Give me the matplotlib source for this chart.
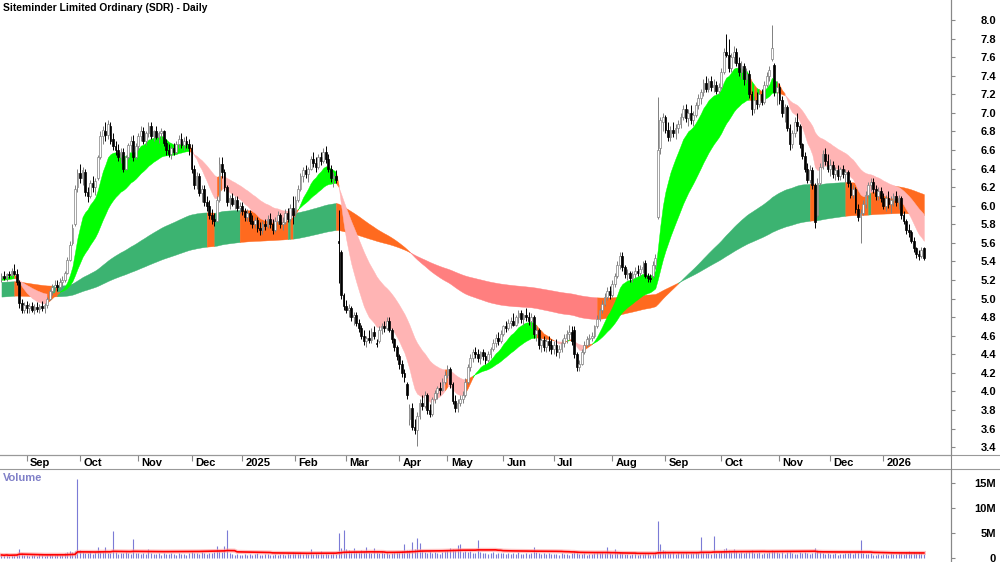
import numpy as np
import pandas as pd
import matplotlib
matplotlib.use('Agg')
import matplotlib.pyplot as plt
from matplotlib.lines import Line2D
from matplotlib.transforms import blended_transform_factory

title = 'Siteminder Limited Ordinary (SDR) - Daily'

# ASX trading days shown (19 Aug 2024 .. 27 Jan 2026)
holidays = ['2024-12-25', '2024-12-26', '2025-01-01', '2025-01-27', '2025-04-18',
            '2025-04-21', '2025-04-25', '2025-06-09', '2025-12-25', '2025-12-26',
            '2026-01-01', '2026-01-26']

# daily prices, one line per month (Aug 2024 ... Jan 2026)
opens = [
    5.22, 5.24, 5.22, 5.26, 5.25, 5.30, 5.27, 5.18, 4.95, 4.88,
    4.93, 4.90, 4.92, 4.88, 4.91, 4.89, 4.92, 4.90, 4.93, 5.00, 5.08, 5.12, 5.15, 5.12, 5.18, 5.20, 5.28, 5.42, 5.60, 5.80, 6.20,
    6.35, 6.30, 6.36, 6.15, 6.10, 6.25, 6.20, 6.30, 6.52, 6.75, 6.80, 6.76, 6.86, 6.72, 6.64, 6.60, 6.52, 6.58, 6.40, 6.52, 6.65, 6.70, 6.52,
    6.64, 6.75, 6.80, 6.70, 6.78, 6.86, 6.75, 6.80, 6.74, 6.78, 6.80, 6.68, 6.60, 6.56, 6.62, 6.58, 6.66, 6.72, 6.65, 6.70, 6.66,
    6.62, 6.40, 6.22, 6.32, 6.14, 6.18, 6.04, 6.00, 5.90, 5.86, 5.84, 6.06, 6.45, 6.36, 6.20, 6.04, 6.08, 6.02, 6.06, 5.98,
    6.00, 5.94, 5.88, 5.92, 5.84, 5.80, 5.85, 5.76, 5.74, 5.80, 5.78, 5.86, 5.80, 5.74, 5.84, 5.90, 5.80, 5.82, 5.92, 5.86, 5.98,
    5.92, 6.06, 6.18, 6.32, 6.38, 6.34, 6.40, 6.50, 6.46, 6.42, 6.52, 6.48, 6.58, 6.50, 6.40, 6.30, 6.32, 5.62, 5.50, 5.04,
    4.92, 4.88, 4.90, 4.80, 4.82, 4.74, 4.68, 4.60, 4.54, 4.58, 4.55, 4.64, 4.52, 4.54, 4.66, 4.70, 4.68, 4.76, 4.66, 4.56, 4.48,
    4.38, 4.30, 4.20, 4.08, 3.70, 3.82, 3.62, 3.58, 3.74, 3.88, 3.84, 3.96, 3.80, 3.76, 3.92, 3.98, 4.04, 4.02, 4.10,
    4.18, 4.24, 4.08, 3.90, 3.82, 3.88, 3.92, 3.96, 4.10, 4.26, 4.36, 4.42, 4.40, 4.36, 4.42, 4.38, 4.34, 4.40, 4.46, 4.52, 4.58, 4.54,
    4.62, 4.70, 4.68, 4.74, 4.76, 4.72, 4.80, 4.84, 4.78, 4.82, 4.80, 4.76, 4.80, 4.62, 4.66, 4.50, 4.55, 4.48, 4.54, 4.50,
    4.46, 4.50, 4.42, 4.46, 4.52, 4.58, 4.62, 4.64, 4.66, 4.40, 4.26, 4.30, 4.42, 4.50, 4.56, 4.58, 4.60, 4.70, 4.78, 4.88, 4.94, 5.02, 5.08,
    5.04, 5.16, 5.24, 5.36, 5.46, 5.34, 5.26, 5.28, 5.22, 5.26, 5.30, 5.28, 5.32, 5.38, 5.24, 5.22, 5.24, 5.36, 5.88, 6.62, 6.90,
    6.96, 6.82, 6.74, 6.82, 6.78, 6.84, 6.88, 6.96, 7.04, 6.94, 7.00, 6.92, 6.98, 7.08, 7.16, 7.22, 7.32, 7.26, 7.34, 7.28, 7.30, 7.24,
    7.28, 7.44, 7.66, 7.62, 7.48, 7.60, 7.66, 7.54, 7.44, 7.50, 7.36, 7.42, 7.20, 7.04, 7.14, 7.10, 7.20, 7.12, 7.30, 7.40, 7.58, 7.52, 7.22,
    7.28, 7.14, 7.00, 7.06, 6.84, 6.66, 6.78, 6.90, 6.86, 6.66, 6.54, 6.40, 6.28, 6.38, 6.22, 5.90, 6.24, 6.42, 6.56, 6.48,
    6.40, 6.44, 6.34, 6.38, 6.32, 6.40, 6.34, 6.36, 6.24, 6.12, 6.18, 5.96, 5.88, 5.92, 6.02, 6.12, 6.22, 6.26, 6.18, 6.10, 6.16,
    6.08, 6.00, 6.08, 6.02, 6.06, 6.10, 6.04, 6.08, 5.90, 5.84, 5.74, 5.72, 5.62, 5.54, 5.48, 5.46, 5.54,
]
highs = [
    5.28, 5.30, 5.28, 5.30, 5.33, 5.37, 5.32, 5.20, 5.00, 4.96,
    4.97, 4.95, 4.96, 4.94, 4.96, 4.94, 4.97, 4.95, 5.02, 5.10, 5.16, 5.20, 5.20, 5.22, 5.24, 5.30, 5.45, 5.62, 5.80, 6.22, 6.40,
    6.45, 6.42, 6.40, 6.20, 6.28, 6.32, 6.30, 6.55, 6.80, 6.86, 6.90, 6.92, 6.90, 6.78, 6.70, 6.66, 6.62, 6.62, 6.55, 6.68, 6.75, 6.76, 6.68,
    6.78, 6.86, 6.85, 6.80, 6.90, 6.90, 6.82, 6.86, 6.80, 6.84, 6.82, 6.72, 6.66, 6.64, 6.68, 6.70, 6.76, 6.78, 6.74, 6.75, 6.72,
    6.66, 6.44, 6.36, 6.35, 6.22, 6.22, 6.10, 6.06, 5.96, 5.92, 6.10, 6.52, 6.52, 6.40, 6.22, 6.12, 6.14, 6.10, 6.10, 6.04,
    6.04, 5.98, 5.96, 5.95, 5.90, 5.88, 5.88, 5.82, 5.84, 5.86, 5.90, 5.92, 5.86, 5.88, 5.94, 5.92, 5.88, 5.96, 5.98, 6.02, 6.10,
    6.10, 6.22, 6.35, 6.42, 6.44, 6.42, 6.54, 6.58, 6.52, 6.56, 6.58, 6.62, 6.64, 6.56, 6.44, 6.36, 6.38, 5.95, 5.52, 5.06,
    4.98, 4.94, 4.92, 4.86, 4.86, 4.78, 4.72, 4.66, 4.60, 4.66, 4.68, 4.70, 4.56, 4.70, 4.74, 4.76, 4.80, 4.80, 4.68, 4.58, 4.50,
    4.40, 4.34, 4.24, 4.10, 3.86, 3.88, 3.70, 3.78, 3.92, 3.96, 4.00, 3.98, 3.86, 3.94, 4.02, 4.06, 4.10, 4.14, 4.22,
    4.28, 4.26, 4.10, 3.96, 3.92, 3.96, 4.00, 4.14, 4.30, 4.40, 4.46, 4.48, 4.46, 4.44, 4.46, 4.42, 4.44, 4.48, 4.56, 4.62, 4.64, 4.66,
    4.72, 4.76, 4.78, 4.80, 4.84, 4.82, 4.88, 4.88, 4.84, 4.90, 4.86, 4.84, 4.82, 4.70, 4.68, 4.58, 4.60, 4.58, 4.60, 4.56,
    4.54, 4.56, 4.50, 4.56, 4.62, 4.66, 4.72, 4.70, 4.70, 4.42, 4.34, 4.46, 4.54, 4.60, 4.62, 4.64, 4.72, 4.82, 4.90, 4.98, 5.06, 5.12, 5.14,
    5.20, 5.28, 5.40, 5.50, 5.50, 5.36, 5.32, 5.30, 5.30, 5.34, 5.36, 5.36, 5.40, 5.42, 5.28, 5.26, 5.40, 5.48, 7.17, 6.96, 7.00,
    6.98, 6.90, 6.86, 6.90, 6.88, 6.92, 7.00, 7.08, 7.10, 7.04, 7.08, 7.02, 7.12, 7.20, 7.26, 7.36, 7.40, 7.38, 7.40, 7.36, 7.34, 7.32,
    7.48, 7.70, 7.85, 7.80, 7.64, 7.72, 7.70, 7.60, 7.56, 7.54, 7.48, 7.46, 7.24, 7.18, 7.22, 7.24, 7.26, 7.34, 7.44, 7.50, 7.95, 7.54, 7.34,
    7.32, 7.18, 7.10, 7.08, 6.88, 6.82, 6.96, 7.00, 6.88, 6.68, 6.58, 6.46, 6.44, 6.42, 6.24, 6.30, 6.46, 6.60, 6.62, 6.56,
    6.50, 6.48, 6.42, 6.44, 6.42, 6.44, 6.40, 6.38, 6.28, 6.22, 6.20, 6.02, 5.96, 6.06, 6.16, 6.26, 6.30, 6.30, 6.22, 6.20, 6.20,
    6.14, 6.12, 6.16, 6.10, 6.14, 6.16, 6.12, 6.10, 5.94, 5.86, 5.80, 5.74, 5.66, 5.56, 5.52, 5.56, 5.56,
]
lows = [
    5.18, 5.20, 5.19, 5.22, 5.23, 5.25, 5.15, 4.90, 4.84, 4.85,
    4.85, 4.84, 4.86, 4.83, 4.86, 4.84, 4.87, 4.85, 4.90, 4.98, 5.04, 5.08, 5.08, 5.10, 5.14, 5.18, 5.26, 5.40, 5.58, 5.78, 6.15,
    6.25, 6.22, 6.10, 6.04, 6.08, 6.15, 6.12, 6.28, 6.50, 6.66, 6.70, 6.72, 6.66, 6.60, 6.55, 6.48, 6.46, 6.36, 6.38, 6.50, 6.58, 6.48, 6.50,
    6.60, 6.70, 6.66, 6.65, 6.74, 6.72, 6.70, 6.72, 6.68, 6.72, 6.64, 6.55, 6.52, 6.50, 6.55, 6.56, 6.62, 6.62, 6.60, 6.62, 6.55,
    6.35, 6.18, 6.18, 6.10, 6.04, 6.00, 5.94, 5.86, 5.80, 5.78, 5.82, 6.04, 6.30, 6.16, 6.00, 5.96, 6.00, 5.96, 5.94, 5.92,
    5.90, 5.84, 5.84, 5.80, 5.76, 5.76, 5.72, 5.68, 5.70, 5.74, 5.76, 5.76, 5.70, 5.72, 5.80, 5.76, 5.74, 5.80, 5.82, 5.84, 5.80,
    5.88, 6.04, 6.16, 6.26, 6.30, 6.26, 6.38, 6.42, 6.36, 6.40, 6.44, 6.46, 6.46, 6.36, 6.26, 6.20, 6.24, 5.17, 5.00, 4.88,
    4.84, 4.80, 4.76, 4.72, 4.70, 4.64, 4.56, 4.50, 4.48, 4.52, 4.52, 4.56, 4.48, 4.52, 4.62, 4.64, 4.66, 4.64, 4.52, 4.44, 4.34,
    4.24, 4.16, 4.10, 3.92, 3.64, 3.58, 3.54, 3.41, 3.70, 3.80, 3.82, 3.76, 3.72, 3.74, 3.88, 3.92, 3.96, 4.00, 4.08,
    4.14, 4.04, 3.86, 3.78, 3.78, 3.84, 3.88, 3.94, 4.08, 4.22, 4.32, 4.36, 4.32, 4.30, 4.34, 4.30, 4.32, 4.36, 4.44, 4.48, 4.50, 4.52,
    4.60, 4.64, 4.66, 4.68, 4.70, 4.70, 4.74, 4.74, 4.72, 4.76, 4.72, 4.68, 4.58, 4.54, 4.46, 4.42, 4.44, 4.42, 4.44, 4.40,
    4.40, 4.38, 4.36, 4.42, 4.48, 4.52, 4.56, 4.50, 4.36, 4.22, 4.22, 4.28, 4.40, 4.48, 4.50, 4.54, 4.58, 4.68, 4.76, 4.84, 4.92, 4.98, 5.00,
    5.02, 5.12, 5.22, 5.32, 5.30, 5.22, 5.20, 5.18, 5.18, 5.22, 5.24, 5.24, 5.28, 5.22, 5.18, 5.18, 5.22, 5.32, 5.86, 6.56, 6.80,
    6.78, 6.70, 6.70, 6.74, 6.72, 6.78, 6.84, 6.92, 6.90, 6.86, 6.88, 6.86, 6.96, 7.04, 7.10, 7.18, 7.22, 7.22, 7.24, 7.22, 7.20, 7.20,
    7.26, 7.42, 7.60, 7.44, 7.44, 7.54, 7.50, 7.40, 7.36, 7.30, 7.32, 7.16, 6.98, 7.00, 7.04, 7.06, 7.08, 7.10, 7.28, 7.34, 7.56, 7.18, 7.08,
    7.10, 6.96, 6.90, 6.80, 6.60, 6.62, 6.74, 6.80, 6.62, 6.50, 6.36, 6.24, 6.24, 6.18, 5.76, 5.88, 6.22, 6.40, 6.44, 6.36,
    6.32, 6.30, 6.28, 6.28, 6.28, 6.30, 6.26, 6.20, 6.08, 6.08, 5.92, 5.84, 5.60, 5.90, 5.98, 6.08, 6.16, 6.14, 6.06, 6.06, 6.04,
    5.96, 5.94, 5.98, 5.92, 6.00, 6.00, 5.96, 5.86, 5.80, 5.70, 5.66, 5.60, 5.50, 5.44, 5.42, 5.44, 5.42,
]
closes = [
    5.24, 5.22, 5.26, 5.25, 5.30, 5.27, 5.18, 4.95, 4.88, 4.93,
    4.90, 4.92, 4.88, 4.91, 4.89, 4.92, 4.90, 4.93, 5.00, 5.08, 5.12, 5.15, 5.12, 5.18, 5.20, 5.28, 5.42, 5.58, 5.76, 6.18, 6.35,
    6.30, 6.38, 6.15, 6.10, 6.25, 6.20, 6.27, 6.52, 6.75, 6.82, 6.76, 6.88, 6.70, 6.64, 6.60, 6.52, 6.58, 6.40, 6.52, 6.65, 6.70, 6.52, 6.64,
    6.75, 6.80, 6.70, 6.78, 6.86, 6.75, 6.80, 6.74, 6.78, 6.80, 6.68, 6.60, 6.56, 6.62, 6.58, 6.66, 6.72, 6.65, 6.70, 6.66, 6.62,
    6.40, 6.22, 6.32, 6.14, 6.18, 6.04, 6.00, 5.90, 5.86, 5.84, 6.06, 6.45, 6.36, 6.20, 6.04, 6.08, 6.02, 6.06, 5.98, 6.00,
    5.94, 5.88, 5.92, 5.84, 5.80, 5.85, 5.76, 5.74, 5.80, 5.78, 5.86, 5.80, 5.74, 5.84, 5.90, 5.80, 5.82, 5.92, 5.86, 5.98, 5.90,
    6.06, 6.18, 6.32, 6.38, 6.34, 6.40, 6.50, 6.46, 6.42, 6.52, 6.48, 6.58, 6.50, 6.40, 6.30, 6.32, 6.28, 5.60, 5.04, 4.92,
    4.88, 4.90, 4.80, 4.82, 4.74, 4.68, 4.60, 4.54, 4.58, 4.55, 4.64, 4.60, 4.51, 4.66, 4.70, 4.68, 4.76, 4.66, 4.56, 4.48, 4.38,
    4.30, 4.20, 4.16, 3.96, 3.82, 3.62, 3.58, 3.74, 3.88, 3.84, 3.96, 3.80, 3.76, 3.92, 3.98, 4.04, 4.02, 4.10, 4.18,
    4.24, 4.08, 3.90, 3.82, 3.88, 3.92, 3.96, 4.10, 4.26, 4.36, 4.42, 4.40, 4.36, 4.42, 4.38, 4.34, 4.40, 4.46, 4.52, 4.58, 4.54, 4.62,
    4.70, 4.68, 4.74, 4.76, 4.72, 4.80, 4.84, 4.78, 4.82, 4.80, 4.76, 4.80, 4.62, 4.66, 4.50, 4.55, 4.48, 4.54, 4.50, 4.46,
    4.50, 4.42, 4.46, 4.52, 4.58, 4.62, 4.64, 4.54, 4.40, 4.26, 4.30, 4.42, 4.50, 4.56, 4.58, 4.60, 4.70, 4.78, 4.88, 4.94, 5.02, 5.08, 5.04,
    5.16, 5.24, 5.36, 5.46, 5.34, 5.26, 5.28, 5.22, 5.26, 5.30, 5.28, 5.32, 5.34, 5.24, 5.22, 5.21, 5.36, 5.44, 6.60, 6.92, 6.96,
    6.82, 6.74, 6.82, 6.78, 6.84, 6.88, 6.96, 7.04, 6.94, 7.00, 6.92, 6.98, 7.08, 7.16, 7.22, 7.32, 7.26, 7.34, 7.28, 7.30, 7.24, 7.28,
    7.44, 7.66, 7.62, 7.48, 7.60, 7.66, 7.54, 7.44, 7.50, 7.36, 7.42, 7.20, 7.04, 7.14, 7.10, 7.20, 7.12, 7.30, 7.40, 7.46, 7.70, 7.22, 7.28,
    7.14, 7.00, 7.06, 6.84, 6.66, 6.78, 6.90, 6.86, 6.66, 6.54, 6.40, 6.28, 6.38, 6.22, 5.82, 6.24, 6.42, 6.56, 6.48, 6.40,
    6.44, 6.34, 6.38, 6.32, 6.40, 6.34, 6.36, 6.24, 6.12, 6.18, 5.96, 5.88, 5.92, 6.02, 6.12, 6.22, 6.26, 6.18, 6.10, 6.16, 6.08,
    6.00, 6.08, 6.02, 6.06, 6.10, 6.04, 6.08, 5.90, 5.84, 5.74, 5.72, 5.62, 5.54, 5.48, 5.46, 5.52, 5.44,
]
# volume in millions of shares
volumes = [
    0.6, 0.5, 0.7, 0.4, 0.6, 0.5, 0.8, 1.8, 0.9, 0.6,
    0.5, 0.4, 0.6, 0.5, 0.4, 0.7, 0.5, 0.4, 0.6, 0.8, 0.5, 0.6, 0.7, 0.5, 0.6, 0.9, 1.2, 1.4, 1.1, 1.3, 15.8,
    1.6, 1.2, 1.0, 0.9, 1.3, 0.8, 1.1, 2.1, 1.4, 1.2, 2.2, 0.9, 1.0, 5.3, 1.1, 0.8, 0.9, 1.0, 1.2, 0.9, 0.8, 3.8, 1.0,
    0.9, 0.8, 1.0, 0.7, 1.7, 0.9, 0.8, 0.7, 1.0, 0.6, 0.9, 0.8, 0.7, 1.0, 0.8, 0.6, 0.9, 0.7, 0.8, 0.6, 0.9,
    1.2, 1.0, 0.9, 0.8, 1.1, 0.9, 0.8, 1.0, 0.9, 1.2, 2.3, 1.4, 1.1, 2.3, 5.6, 1.0, 0.7, 0.6, 0.8, 0.5,
    0.6, 0.7, 0.5, 0.8, 0.6, 0.7, 0.9, 0.6, 0.5, 0.7, 0.8, 0.6, 0.5, 0.7, 0.6, 0.8, 0.7, 0.6, 0.9, 0.8, 1.1,
    1.0, 0.9, 1.1, 0.8, 0.9, 0.7, 1.8, 0.8, 0.9, 0.7, 1.4, 0.8, 0.9, 0.7, 0.8, 0.9, 0.8, 5.0, 2.0, 5.6,
    1.8, 1.5, 1.2, 1.9, 1.3, 1.1, 1.6, 1.4, 2.2, 1.2, 1.0, 1.9, 1.1, 1.0, 1.3, 0.9, 1.1, 0.8, 1.0, 1.2, 1.1,
    1.2, 1.4, 2.8, 1.5, 1.6, 3.1, 1.8, 4.0, 3.0, 1.6, 1.2, 1.0, 1.3, 0.9, 1.1, 1.0, 0.8, 1.2, 1.4,
    1.6, 2.0, 1.8, 1.5, 2.6, 2.8, 1.2, 1.4, 1.1, 1.3, 1.0, 0.9, 3.5, 1.1, 0.9, 1.0, 0.8, 0.9, 1.2, 0.8, 1.0, 0.9,
    0.9, 0.8, 1.0, 0.7, 0.9, 0.8, 1.1, 0.7, 0.8, 0.9, 0.7, 1.0, 2.2, 1.1, 0.9, 0.8, 1.0, 0.7, 0.9, 0.8,
    0.7, 0.8, 0.6, 0.9, 0.7, 0.8, 0.6, 0.9, 1.4, 1.1, 0.8, 0.7, 0.9, 0.6, 0.8, 0.7, 1.0, 1.2, 0.9, 1.1, 1.0, 2.1, 0.9,
    0.8, 1.7, 1.0, 1.2, 0.9, 0.7, 0.8, 0.6, 0.7, 0.9, 0.6, 0.8, 0.7, 1.0, 0.9, 0.6, 0.8, 1.1, 7.4, 2.7, 1.6,
    1.3, 1.0, 0.9, 1.1, 0.8, 1.2, 1.0, 0.9, 1.1, 0.8, 1.0, 0.9, 1.2, 1.0, 4.2, 1.1, 0.9, 1.0, 0.8, 4.4, 1.0, 1.2,
    1.4, 1.8, 1.9, 1.5, 1.2, 1.7, 1.3, 1.0, 1.1, 0.9, 1.2, 1.4, 1.6, 1.0, 0.9, 1.1, 0.8, 1.0, 0.9, 1.2, 1.5, 1.3, 1.1,
    1.0, 1.1, 0.8, 1.2, 1.3, 0.9, 0.8, 0.7, 1.1, 1.0, 1.2, 0.9, 0.8, 1.0, 2.0, 1.5, 1.2, 1.0, 0.8, 0.9,
    0.8, 0.7, 0.9, 0.6, 0.8, 0.7, 0.9, 1.0, 1.1, 0.8, 1.2, 1.3, 3.6, 1.0, 0.8, 0.7, 0.9, 0.6, 0.5, 0.7, 0.6,
    0.7, 0.8, 0.6, 0.9, 0.7, 0.8, 0.9, 1.0, 0.8, 1.1, 1.3, 0.9, 1.2, 1.0, 1.1, 0.9, 0.8,
]

price_ticks = np.arange(3.4, 8.01, 0.2)
vol_ticks = [0, 5, 10, 15]
vol_labels = ['0', '5M', '10M', '15M']

days = pd.bdate_range('2024-08-19', '2026-01-27')
days = days[~days.isin(pd.to_datetime(holidays))]
n = len(closes)
assert len(days) == n == len(opens) == len(highs) == len(lows) == len(volumes), (len(days), n)

o = np.array(opens); h = np.array(highs); l = np.array(lows); c = np.array(closes)
x = np.arange(n)


def ema(vals, period, seed):
    a = 2.0 / (period + 1)
    out, e = [], seed
    for v in vals:
        e = e + a * (v - e)
        out.append(e)
    return np.array(out)


def band_colors(fast, slow, ref, up, down, mixed):
    # trend from the order of the two averages, confirmed by the close vs ref line
    cols = []
    for f, s, r, cl in zip(fast, slow, ref, c):
        if f >= s:
            cols.append(up if cl >= r else mixed)
        else:
            cols.append(down if cl <= r else mixed)
    return cols


def fill_band(ax, fast, slow, cols):
    start = 0
    for i in range(1, n + 1):
        if i == n or cols[i] != cols[start]:
            s0 = max(start - 1, 0)
            ax.fill_between(x[s0:i], fast[s0:i], slow[s0:i], color=cols[start],
                            lw=0.3, edgecolor=cols[start], zorder=1)
            start = i


short_fast = ema(c, 10, 5.24)
short_slow = ema(c, 30, 5.20)
long_fast = ema(c, 130, 5.18)
long_slow = ema(c, 250, 5.02)

ORANGE = '#ff6a1f'
fig = plt.figure(figsize=(10, 5.62), dpi=100)
ax = fig.add_axes([0, 107 / 562, 0.951, 455 / 562])
axv = fig.add_axes([0, 1 / 562, 0.951, 92 / 562])

fill_band(ax, long_fast, long_slow,
          band_colors(long_fast, long_slow, long_fast, '#3cb371', '#ff7f7f', ORANGE))
fill_band(ax, short_fast, short_slow,
          band_colors(short_fast, short_slow, short_slow, '#00ff00', '#ffb4b4', ORANGE))

# candles
up = c >= o
ax.vlines(x, np.minimum(l, np.minimum(o, c)), np.maximum(h, np.maximum(o, c)),
          colors=np.where(up, '#808080', 'black'), lw=0.7, zorder=3)
ax.bar(x, np.maximum(np.abs(c - o), 0.01), bottom=np.minimum(o, c), width=0.7,
       color=np.where(up, 'white', 'black'), edgecolor=np.where(up, '#808080', 'black'),
       linewidth=0.5, zorder=4)

ax.set_xlim(-0.58, 374.7)
ax.set_ylim(3.316, 8.215)
ax.yaxis.tick_right()
ax.set_yticks(price_ticks)
ax.set_yticklabels([f'{v:.1f}' for v in price_ticks])
ax.tick_params(axis='y', direction='out', length=3, color='#888888', pad=29.5,
               labelsize=8)
for lbl in ax.get_yticklabels():
    lbl.set_ha('right')
    lbl.set_fontweight('bold')
    lbl.set_family('Liberation Sans')

month_idx = [i for i in range(1, n) if days[i].month != days[i - 1].month]
ax.set_xticks(month_idx)
ax.tick_params(axis='x', direction='out', length=4, color='#888888', labelbottom=False)
trans = blended_transform_factory(ax.transData, ax.transAxes)
for i in month_idx:
    d = days[i]
    lab = str(d.year) if d.month == 1 else d.strftime('%b')
    ax.text(i + 1.3, -0.018, lab, transform=trans, ha='left', va='center',
            fontsize=8, fontweight='bold', family='Liberation Sans')

for sp in ['left', 'top']:
    ax.spines[sp].set_visible(False)
ax.spines['right'].set_color('#888888')
ax.spines['bottom'].set_color('#888888')

# volume panel
axv.vlines(x, 0, volumes, color='#7b7bd6', lw=0.8)
vavg = pd.Series(volumes).rolling(63, min_periods=1).mean()
axv.plot(x, vavg, color='#ff9a9a', lw=3, alpha=0.6)
axv.plot(x, vavg, color='red', lw=1.2)
axv.set_xlim(-0.58, 374.7)
axv.set_ylim(-0.6, 17.7)
axv.set_xticks([])
axv.yaxis.tick_right()
axv.set_yticks(vol_ticks)
axv.set_yticklabels(vol_labels)
axv.tick_params(axis='y', direction='out', length=3, color='#888888', pad=29.5,
                labelsize=8)
for lbl in axv.get_yticklabels():
    lbl.set_ha('right')
    lbl.set_fontweight('bold')
    lbl.set_family('Liberation Sans')
for sp in ['left', 'top', 'bottom']:
    axv.spines[sp].set_visible(False)
axv.spines['right'].set_color('#888888')

fig.text(0.003, 1 - 478 / 562, 'Volume', color='#8080c8', fontsize=8,
         fontweight='bold', va='center', family='Liberation Sans')
fig.text(0.003, 1 - 8 / 562, title, fontsize=7.4, fontweight='bold', va='center',
         family='Liberation Sans')

for yy in [107 / 562, 93 / 562]:
    fig.add_artist(Line2D([0, 1], [yy, yy], color='#999999', lw=0.8,
                          transform=fig.transFigure))
fig.add_artist(Line2D([0.951, 0.951], [0, 1], color='#888888', lw=0.8,
                      transform=fig.transFigure))

fig.savefig('out.png', dpi=100)
